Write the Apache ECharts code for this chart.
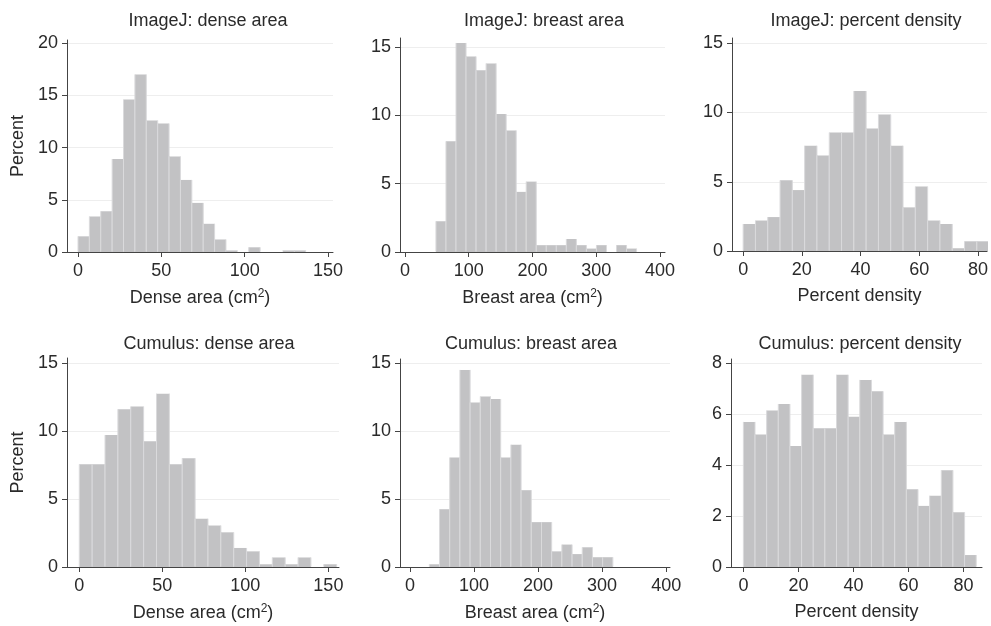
<!DOCTYPE html>
<html>
<head>
<meta charset="utf-8">
<script src="https://cdn.jsdelivr.net/npm/echarts@6/dist/echarts.min.js"></script>
<style>
html,body{margin:0;padding:0;background:#fff;}
#chart{width:991px;height:626px;}
</style>
</head>
<body>
<div id="chart"></div>
<script>
// ---- Data (percent per bin) ----
const panelTitles = ['ImageJ: dense area', 'ImageJ: breast area', 'ImageJ: percent density',
                     'Cumulus: dense area', 'Cumulus: breast area', 'Cumulus: percent density'];
const xAxisNames = ['Dense area (cm{sup|2})', 'Breast area (cm{sup|2})', 'Percent density',
                    'Dense area (cm{sup|2})', 'Breast area (cm{sup|2})', 'Percent density'];
const yAxisName = 'Percent';

const xTicksDense = [0, 50, 100, 150];
const xTicksBreast = [0, 100, 200, 300, 400];
const xTicksPD = [0, 20, 40, 60, 80];
const yTicksIJDense = [0, 5, 10, 15, 20];
const yTicks15 = [0, 5, 10, 15];
const yTicks8 = [0, 2, 4, 6, 8];

// bin start and bin width (in data units) and bar heights (percent)
const ijDenseStart = 0, ijDenseWidth = 6.83;
const ijDenseValues = [1.5, 3.4, 3.9, 8.9, 14.6, 17.0, 12.6, 12.3, 9.15, 6.9, 4.7, 2.7, 1.2, 0.15, 0, 0.45, 0, 0, 0.15, 0.15];

const ijBreastStart = 48.6, ijBreastWidth = 15.74;
const ijBreastValues = [2.25, 8.1, 15.3, 14.3, 13.3, 13.8, 10.1, 8.9, 4.4, 5.15, 0.5, 0.5, 0.5, 0.95, 0.5, 0.25, 0.5, 0, 0.5, 0.25];

const ijPDStart = 0, ijPDWidth = 4.19;
const ijPDValues = [1.95, 2.2, 2.45, 5.1, 4.4, 7.6, 6.9, 8.55, 8.55, 11.55, 8.85, 9.85, 7.6, 3.15, 4.65, 2.2, 1.95, 0.2, 0.7, 0.7];

const cuDenseStart = 0, cuDenseWidth = 7.75;
const cuDenseValues = [7.55, 7.55, 9.7, 11.6, 11.8, 9.25, 12.75, 7.55, 8.0, 3.55, 3.05, 2.55, 1.4, 1.15, 0.2, 0.7, 0.2, 0.7, 0, 0.2];

const cuBreastStart = 30.2, cuBreastWidth = 15.92;
const cuBreastValues = [0.2, 4.25, 8.05, 14.5, 12.1, 12.55, 12.35, 8.05, 9.0, 5.65, 3.3, 3.3, 1.15, 1.65, 0.95, 1.45, 0.72, 0.72];

const cuPDStart = 0, cuPDWidth = 4.23;
const cuPDValues = [5.7, 5.2, 6.15, 6.4, 4.75, 7.55, 5.45, 5.45, 7.55, 5.9, 7.35, 6.9, 5.2, 5.7, 3.05, 2.4, 2.8, 3.8, 2.15, 0.47];

// ---- Build histogram data [binStart, binEnd, value] ----
function bins(start, width, values) {
  return values.map((v, i) => [start + i * width, start + (i + 1) * width, v]);
}
const seriesData = [
  bins(ijDenseStart, ijDenseWidth, ijDenseValues),
  bins(ijBreastStart, ijBreastWidth, ijBreastValues),
  bins(ijPDStart, ijPDWidth, ijPDValues),
  bins(cuDenseStart, cuDenseWidth, cuDenseValues),
  bins(cuBreastStart, cuBreastWidth, cuBreastValues),
  bins(cuPDStart, cuPDWidth, cuPDValues)
];
const xTicks = [xTicksDense, xTicksBreast, xTicksPD, xTicksDense, xTicksBreast, xTicksPD];
const yTicks = [yTicksIJDense, yTicks15, yTicks15, yTicks15, yTicks15, yTicks8];

// ---- Layout (pixels / axis extents) ----
const layout = [
  {left: 67,  top: 40,  width: 266, height: 212, xMin: -6.6,  xMax: 153,  yMax: 20.3,  titleX: 208},
  {left: 400, top: 38,  width: 265, height: 214, xMin: -7.8,  xMax: 408,  yMax: 15.66, titleX: 544},
  {left: 732, top: 38,  width: 259, height: 213, xMin: -3.8,  xMax: 83.1, yMax: 15.38, titleX: 866},
  {left: 67,  top: 358, width: 272, height: 209, xMin: -7.4,  xMax: 156.4,yMax: 15.37, titleX: 209},
  {left: 400, top: 359, width: 270, height: 208, xMin: -15.6, xMax: 406,  yMax: 15.3,  titleX: 531},
  {left: 731, top: 359, width: 251, height: 208, xMin: -4.5,  xMax: 86.7, yMax: 8.17,  titleX: 860}
];

const FONT = '"Liberation Sans", Arial, Helvetica, sans-serif';
const TEXT = '#2a2a2a';
const AXIS = '#444';
const FS = 18;

function renderHist(params, api) {
  const x0 = api.value(0), x1 = api.value(1), v = api.value(2);
  if (!(v > 0)) return null;
  const p0 = api.coord([x0, v]);
  const p1 = api.coord([x1, 0]);
  return {
    type: 'group',
    children: [
      {type: 'rect', shape: {x: p0[0], y: p0[1], width: p1[0] - p0[0], height: p1[1] - p0[1]},
       style: {fill: '#c2c2c4'}},
      {type: 'line', shape: {x1: p0[0], y1: p0[1], x2: p0[0], y2: p1[1] - 0.5},
       style: {stroke: '#dadadc', lineWidth: 1}},
      {type: 'line', shape: {x1: p1[0], y1: p0[1], x2: p1[0], y2: p1[1] - 0.5},
       style: {stroke: '#dadadc', lineWidth: 1}}
    ]
  };
}

const option = {
  backgroundColor: '#ffffff',
  animation: false,
  title: layout.map((l, i) => ({
    text: panelTitles[i],
    left: l.titleX,
    top: i < 3 ? 12 : 335,
    textAlign: 'center',
    padding: 0,
    textStyle: {fontFamily: FONT, fontSize: FS, fontWeight: 'normal', color: TEXT}
  })),
  grid: layout.map(l => ({left: l.left, top: l.top, width: l.width, height: l.height, containLabel: false})),
  xAxis: layout.map((l, i) => ({
    type: 'value',
    gridIndex: i,
    min: l.xMin,
    max: l.xMax,
    name: xAxisNames[i],
    nameLocation: 'middle',
    nameGap: 36,
    nameTextStyle: {
      fontFamily: FONT, fontSize: FS, color: TEXT,
      rich: {sup: {fontFamily: FONT, fontSize: 12, color: TEXT, verticalAlign: 'bottom', padding: [0, 0, 9, 0]}}
    },
    axisLine: {onZero: false, lineStyle: {color: AXIS, width: 1}},
    axisTick: {show: true, length: 5, lineStyle: {color: AXIS}, customValues: xTicks[i]},
    axisLabel: {customValues: xTicks[i], margin: 10, fontFamily: FONT, fontSize: FS, color: TEXT},
    splitLine: {show: false}
  })),
  yAxis: layout.map((l, i) => ({
    type: 'value',
    gridIndex: i,
    min: 0,
    max: l.yMax,
    name: (i === 0 || i === 3) ? yAxisName : '',
    nameLocation: 'middle',
    nameGap: 40,
    nameTextStyle: {fontFamily: FONT, fontSize: FS, color: TEXT},
    axisLine: {show: true, onZero: false, lineStyle: {color: AXIS, width: 1}},
    axisTick: {show: true, length: 5, lineStyle: {color: AXIS}, customValues: yTicks[i]},
    axisLabel: {customValues: yTicks[i], margin: 9, fontFamily: FONT, fontSize: FS, color: TEXT},
    splitLine: {show: true, lineStyle: {color: '#eeeeee', width: 1}}
  })),
  series: seriesData.map((d, i) => ({
    type: 'custom',
    xAxisIndex: i,
    yAxisIndex: i,
    renderItem: renderHist,
    encode: {x: [0, 1], y: 2},
    clip: true,
    data: d
  }))
};

const chart = echarts.init(document.getElementById('chart'), null, {renderer: 'canvas'});
chart.setOption(option);
</script>
</body>
</html>
